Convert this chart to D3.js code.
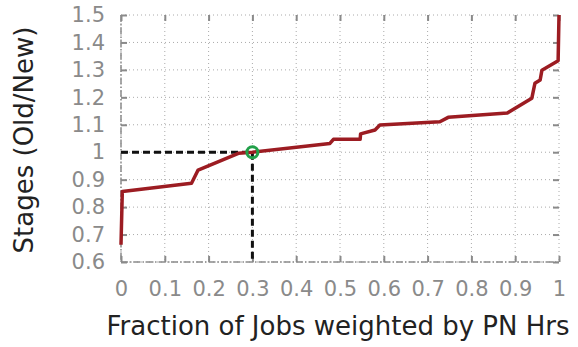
<!DOCTYPE html>
<html>
<head>
<meta charset="utf-8">
<script src="https://cdn.jsdelivr.net/npm/d3@7"></script>
<style>
  body { margin: 0; background: #fff; }
  svg { display: block; font-family: "DejaVu Sans", sans-serif; }
</style>
</head>
<body>
<div id="chart"></div>
<script>
// curve
var fraction = [0, 0.003, 0.161, 0.176, 0.268, 0.30, 0.477, 0.485, 0.546, 0.547, 0.58, 0.591, 0.728, 0.747, 0.882, 0.938, 0.945, 0.957, 0.961, 0.998, 1.0];
var stages = [0.663, 0.857, 0.887, 0.935, 0.996, 1.0, 1.032, 1.047, 1.047, 1.067, 1.081, 1.099, 1.111, 1.127, 1.143, 1.197, 1.251, 1.263, 1.299, 1.333, 1.5];
var marker = [0.3, 1.0];
var xTicks = [0, 0.1, 0.2, 0.3, 0.4, 0.5, 0.6, 0.7, 0.8, 0.9, 1];
var yTicks = [0.6, 0.7, 0.8, 0.9, 1.0, 1.1, 1.2, 1.3, 1.4, 1.5];

var width = 578, height = 347;
var margin = { left: 121, right: 19, top: 15, bottom: 85 };
var w = width - margin.left - margin.right;
var h = height - margin.top - margin.bottom;

var svg = d3.select('#chart').append('svg')
    .attr('width', width)
    .attr('height', height);

var g = svg.append('g')
    .attr('transform', 'translate(' + margin.left + ',' + margin.top + ')');

var x = d3.scaleLinear().domain([0, 1]).range([0, w]);
var y = d3.scaleLinear().domain([0.6, 1.5]).range([h, 0]);

var tickFmt = function(d) { return d3.format('.1f')(d).replace(/\.0$/, ''); };
var gray = '#8a8a8a';

// dotted grid
g.append('g').selectAll('line').data(xTicks).enter().append('line')
    .attr('x1', function(d) { return x(d); }).attr('x2', function(d) { return x(d); })
    .attr('y1', 0).attr('y2', h)
    .attr('stroke', '#aaa').attr('stroke-width', 1).attr('stroke-dasharray', '1,3');
g.append('g').selectAll('line').data(yTicks).enter().append('line')
    .attr('y1', function(d) { return y(d); }).attr('y2', function(d) { return y(d); })
    .attr('x1', 0).attr('x2', w)
    .attr('stroke', '#aaa').attr('stroke-width', 1).attr('stroke-dasharray', '1,3');

// axes with inward ticks on all four sides
function styleAxis(sel) {
    sel.attr('font-family', null);
    sel.select('.domain').remove();
    sel.selectAll('.tick line').attr('stroke', gray).attr('stroke-width', 2);
    sel.selectAll('.tick text').attr('fill', gray).style('font-size', '21px');
}

g.append('g')
    .attr('transform', 'translate(0,' + h + ')')
    .call(d3.axisBottom(x).tickValues(xTicks).tickFormat(tickFmt).tickSizeInner(-6).tickPadding(19))
    .call(styleAxis);
g.append('g')
    .call(d3.axisTop(x).tickValues(xTicks).tickFormat('').tickSizeInner(-6))
    .call(styleAxis);
g.append('g')
    .call(d3.axisLeft(y).tickValues(yTicks).tickFormat(tickFmt).tickSizeInner(-6).tickPadding(16))
    .call(styleAxis);
g.append('g')
    .attr('transform', 'translate(' + w + ',0)')
    .call(d3.axisRight(y).tickValues(yTicks).tickFormat('').tickSizeInner(-6))
    .call(styleAxis);

// dash-dot spines on left and bottom
g.append('line').attr('x1', 0).attr('x2', 0).attr('y1', 0).attr('y2', h)
    .attr('stroke', gray).attr('stroke-width', 1.5).attr('stroke-dasharray', '7,2,1.5,2');
g.append('line').attr('x1', 0).attr('x2', w).attr('y1', h).attr('y2', h)
    .attr('stroke', gray).attr('stroke-width', 1.5).attr('stroke-dasharray', '7,2,1.5,2');

// black dashed guides to the marked point
g.append('path')
    .attr('d', 'M' + x(0) + ',' + y(marker[1]) + 'H' + x(marker[0]) + 'V' + y(0.6))
    .attr('fill', 'none')
    .attr('stroke', '#111')
    .attr('stroke-width', 3)
    .attr('stroke-dasharray', '7,4');

var line = d3.line()
    .x(function(d) { return x(d[0]); })
    .y(function(d) { return y(d[1]); });

g.append('path')
    .datum(d3.zip(fraction, stages))
    .attr('d', line)
    .attr('fill', 'none')
    .attr('stroke', '#9c1c22')
    .attr('stroke-width', 3.5)
    .attr('stroke-linejoin', 'round');

g.append('circle')
    .attr('cx', x(marker[0]))
    .attr('cy', y(marker[1]))
    .attr('r', 5.5)
    .attr('fill', 'none')
    .attr('stroke', '#22a04a')
    .attr('stroke-width', 3);

// axis titles
svg.append('text')
    .attr('x', 338)
    .attr('y', 335)
    .attr('text-anchor', 'middle')
    .attr('fill', '#222')
    .style('font-size', '26px')
    .text('Fraction of Jobs weighted by PN Hrs');

svg.append('text')
    .attr('transform', 'translate(33,140) rotate(-90)')
    .attr('text-anchor', 'middle')
    .attr('fill', '#222')
    .style('font-size', '26px')
    .text('Stages (Old/New)');
</script>
</body>
</html>
